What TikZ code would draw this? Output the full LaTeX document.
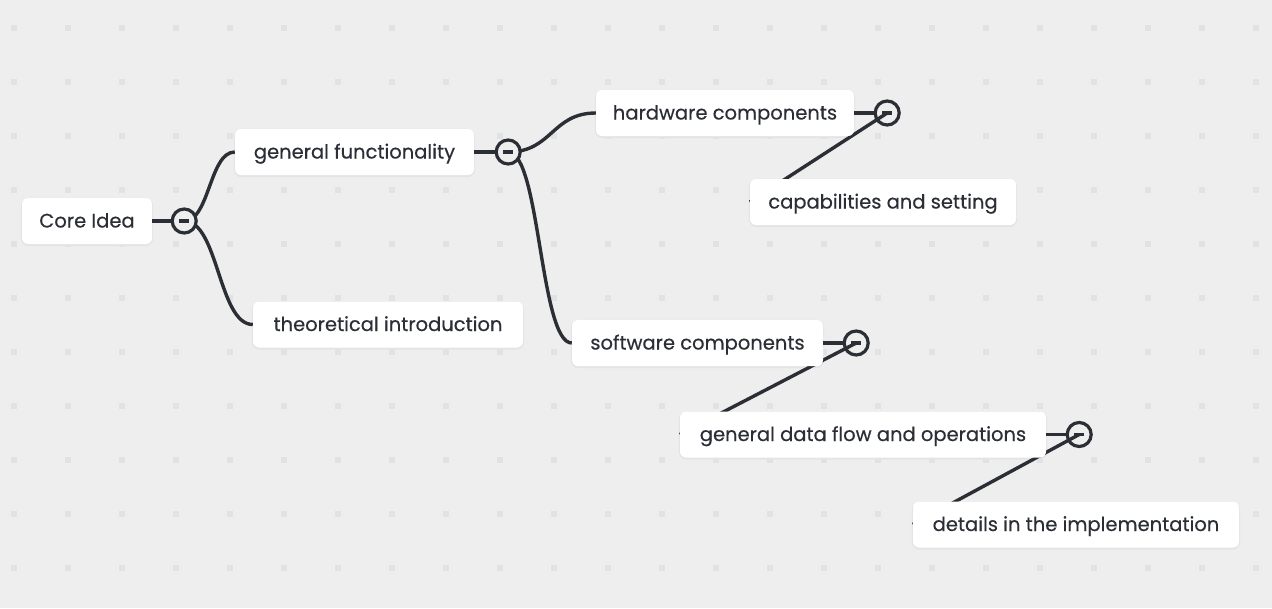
\documentclass[tikz,border=0pt]{standalone}
\usepackage{fontspec}
\setmainfont{Poppins}
\newfontfamily\tfont{Poppins}[FakeBold=0.35]
\usetikzlibrary{calc}
\definecolor{bgc}{HTML}{EEEEEE}
\definecolor{dotc}{HTML}{E1E2E5}
\definecolor{ink}{HTML}{2B2E35}
\definecolor{shad}{HTML}{E4E4E6}
\pgfdeclarelayer{bgl}
\pgfdeclarelayer{edges}
\pgfsetlayers{bgl,edges,main}
\begin{document}
\begin{tikzpicture}[x=1pt,y=-1pt,
  topic/.style={fill=white, rounded corners=6pt, text=ink,
    font=\tfont\fontsize{19.5}{22}\selectfont, minimum height=46pt, inner xsep=0pt,
    text height=14.5pt, text depth=1.5pt},
  toggle/.style={circle, draw=ink, line width=3.2pt, minimum size=24pt, inner sep=0pt},
  stub/.style={draw=ink, line width=3.4pt},
  link/.style={draw=ink, line width=3.4pt},
  minus/.style={draw=ink, line width=3.2pt},
  shadowbox/.style={draw=shad, line width=2pt, rounded corners=7pt}]
\begin{pgfonlayer}{bgl}
\fill[bgc] (0,0) rectangle (1272,608);
\foreach \i in {0,...,23}{
  \foreach \j in {0,...,10}{
    \fill[dotc] ({11+54*\i},{25+54*\j}) rectangle +(6,6);
  }
}
\end{pgfonlayer}
\useasboundingbox (0,0) rectangle (1272,608);

% topic nodes
\node[topic, minimum width=130pt] (core) at (87,221) {Core Idea};
\node[topic, minimum width=239pt] (gf) at (354.5,152) {general functionality};
\node[topic, minimum width=270pt] (ti) at (388,324.5) {theoretical introduction};
\node[topic, minimum width=258pt] (hw) at (725,113) {hardware components};
\node[topic, minimum width=266pt] (cap) at (883,202) {capabilities and setting};
\node[topic, minimum width=251pt] (sw) at (697.5,343) {software components};
\node[topic, minimum width=366pt] (gdf) at (863,434.5) {general data flow and operations};
\node[topic, minimum width=326pt] (det) at (1076,524.5) {details in the implementation};

% toggles
\node[toggle, fill=bgc] (tcore) at ($(core.east)+(32,0)$) {};
\node[toggle, fill=bgc] (tgf) at ($(gf.east)+(34,0)$) {};
\node[toggle] (thw) at ($(hw.east)+(33,0)$) {};
\node[toggle] (tsw) at ($(sw.east)+(33,0)$) {};
\node[toggle] (tgdf) at ($(gdf.east)+(33,0)$) {};

% stubs and minus signs
\foreach \n/\t in {core/tcore, gf/tgf, hw/thw, sw/tsw, gdf/tgdf}{
  \draw[stub] (\n.east) -- (\t.west);
  \draw[minus] ($(\t.center)+(-5,0)$) -- ($(\t.center)+(5,0)$);
}

\begin{pgfonlayer}{bgl}
% soft outlines under the boxes
\foreach \n in {core,gf,ti,hw,cap,sw,gdf,det}{
  \draw[shadowbox] ($(\n.north west)+(0,1)$) rectangle ($(\n.south east)+(0,1)$);
}
\end{pgfonlayer}

\begin{pgfonlayer}{edges}
% curved connectors
\foreach \t/\c in {tcore/gf, tcore/ti, tgf/hw, tgf/sw}{
  \draw[link] let \p1=(\t.center), \p2=(\c.west) in
    (\t.center) .. controls ({(\x1+\x2)/2},\y1) and ({(\x1+\x2)/2},\y2) .. (\c.west);
}
% straight connectors
\draw[link] (thw.center) -- (cap.west);
\draw[link] (tsw.center) -- (gdf.west);
\draw[link] (tgdf.center) -- (det.west);
\end{pgfonlayer}
\end{tikzpicture}
\end{document}
